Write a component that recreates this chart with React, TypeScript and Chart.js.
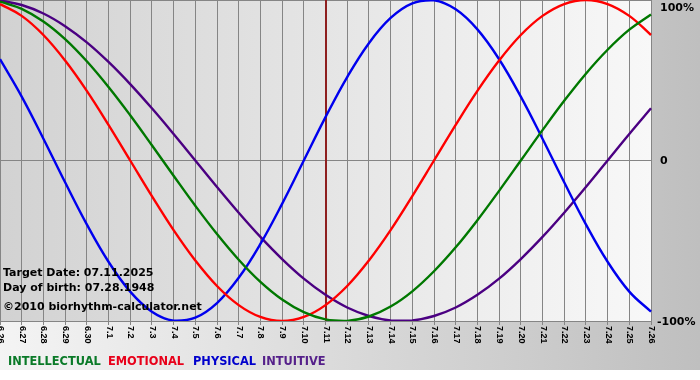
import React, { useEffect, useRef } from "react";
import { Chart, registerables } from "chart.js";

Chart.register(...registerables);

const DAY_LABELS = [
  "6.26", "6.27", "6.28", "6.29", "6.30", "7.1", "7.2", "7.3", "7.4", "7.5", "7.6",
  "7.7", "7.8", "7.9", "7.10", "7.11", "7.12", "7.13", "7.14", "7.15", "7.16",
  "7.17", "7.18", "7.19", "7.20", "7.21", "7.22", "7.23", "7.24", "7.25", "7.26",
];

const INTELLECTUAL = [
  99.0, 94.5, 86.6, 75.6, 61.8, 45.8, 28.2, 9.5, -9.5, -28.2, -45.8, -61.8, -75.6, -86.6,
  -94.5, -99.0, -99.9, -97.2, -91.0, -81.5, -69.0, -54.1, -37.2, -18.9, 0, 18.9, 37.2,
  54.1, 69.0, 81.5, 91.0,
];
const EMOTIONAL = [
  97.5, 90.1, 78.2, 62.3, 43.4, 22.2, 0, -22.2, -43.4, -62.3, -78.2, -90.1, -97.5, -100,
  -97.5, -90.1, -78.2, -62.3, -43.4, -22.2, 0, 22.2, 43.4, 62.3, 78.2, 90.1, 97.5, 100,
  97.5, 90.1, 78.2,
];
const PHYSICAL = [
  63.1, 39.8, 13.6, -13.6, -39.8, -63.1, -81.7, -94.2, -99.8, -97.9, -88.8, -73.1, -52.0,
  -27.0, 0, 27.0, 52.0, 73.1, 88.8, 97.9, 99.8, 94.2, 81.7, 63.1, 39.8, 13.6, -13.6,
  -39.8, -63.1, -81.7, -94.2,
];
const INTUITIVE = [
  99.7, 96.9, 91.6, 83.7, 73.6, 61.4, 47.6, 32.5, 16.5, 0, -16.5, -32.5, -47.6, -61.4,
  -73.6, -83.7, -91.6, -96.9, -99.7, -99.7, -96.9, -91.6, -83.7, -73.6, -61.4, -47.6,
  -32.5, -16.5, 0, 16.5, 32.5,
];

const Y_TICK_VALUES = [100, 0, -100];
const Y_TICK_LABELS = ["100%", "0", "-100%"];

const SERIES_NAMES = ["INTELLECTUAL", "EMOTIONAL", "PHYSICAL", "INTUITIVE"];
const LINE_COLORS = ["#007800", "#ff0000", "#0000ee", "#4b0082"];
const LEGEND_COLORS = ["#0a7a28", "#e8001a", "#0000cc", "#55208a"];
const LEGEND_X = [8, 108, 193, 262];

const INFO_LINES = [
  "Target Date: 07.11.2025",
  "Day of birth: 07.28.1948",
  "\u00a92010 biorhythm-calculator.net",
];
const TARGET_LABEL = "7.11";

const decorPlugin = {
  id: "biorhythmDecor",
  beforeDraw(chart: any) {
    const { ctx, chartArea, width, height } = chart;
    ctx.save();
    ctx.fillStyle = "#ffffff";
    ctx.fillRect(0, 0, width, height);
    const outer = ctx.createLinearGradient(0, 0, width, 0);
    outer.addColorStop(0, "#f4f4f4");
    outer.addColorStop(1, "#bfbfbf");
    ctx.fillStyle = outer;
    ctx.fillRect(0, 0, width, 370);
    const inner = ctx.createLinearGradient(chartArea.left, 0, chartArea.right, 0);
    inner.addColorStop(0, "#d2d2d2");
    inner.addColorStop(1, "#f8f8f8");
    ctx.fillStyle = inner;
    ctx.fillRect(chartArea.left, chartArea.top, chartArea.right - chartArea.left, chartArea.bottom - chartArea.top);
    ctx.restore();
  },
  beforeDatasetsDraw(chart: any) {
    const { ctx, chartArea } = chart;
    const xs = chart.scales.x;
    const idx = DAY_LABELS.indexOf(TARGET_LABEL);
    const x = Math.round(xs.getPixelForValue(idx));
    ctx.save();
    ctx.strokeStyle = "#8e1f1f";
    ctx.lineWidth = 2;
    ctx.beginPath();
    ctx.moveTo(x, chartArea.top);
    ctx.lineTo(x, chartArea.bottom);
    ctx.stroke();
    ctx.restore();
  },
  afterDatasetsDraw(chart: any) {
    const { ctx, chartArea } = chart;
    const xs = chart.scales.x;
    const ys = chart.scales.y;
    ctx.save();
    // x tick labels, rotated clockwise
    ctx.fillStyle = "#000000";
    ctx.font = "bold 9px 'Liberation Sans'";
    ctx.textAlign = "left";
    ctx.textBaseline = "middle";
    DAY_LABELS.forEach((lab, i) => {
      const x = xs.getPixelForValue(i);
      ctx.save();
      ctx.translate(x + 0.5, chartArea.bottom + 5);
      ctx.rotate(Math.PI / 2);
      ctx.fillText(lab, 0, 0);
      ctx.restore();
    });
    // y labels on the right
    ctx.font = "bold 11px 'DejaVu Sans'";
    ctx.textBaseline = "middle";
    Y_TICK_VALUES.forEach((v, i) => {
      const y = Math.max(ys.getPixelForValue(v), 7);
      const lab = Y_TICK_LABELS[i];
      const x = lab.startsWith("-") ? chartArea.right + 6 : chartArea.right + 9;
      ctx.fillText(lab, x, y + 1);
    });
    // info text
    ctx.textBaseline = "alphabetic";
    ctx.fillStyle = "#000000";
    ctx.fillText(INFO_LINES[0], 3, 276);
    ctx.fillText(INFO_LINES[1], 3, 291);
    ctx.fillText(INFO_LINES[2], 3, 310);
    // legend
    ctx.font = "bold 11.4px 'DejaVu Sans'";
    ctx.textBaseline = "middle";
    SERIES_NAMES.forEach((name, i) => {
      ctx.fillStyle = LEGEND_COLORS[i];
      ctx.fillText(name, LEGEND_X[i], 362);
    });
    ctx.restore();
  },
};

export default function App() {
  const ref = useRef<HTMLCanvasElement | null>(null);
  useEffect(() => {
    if (!ref.current) return;
    const seriesData = [INTELLECTUAL, EMOTIONAL, PHYSICAL, INTUITIVE];
    const chart = new Chart(ref.current, {
      type: "line",
      data: {
        labels: DAY_LABELS,
        datasets: SERIES_NAMES.map((name, i) => ({
          label: name,
          data: seriesData[i],
          borderColor: LINE_COLORS[i],
          backgroundColor: LINE_COLORS[i],
          borderWidth: 2.4,
          pointRadius: 0,
          tension: 0.4,
          fill: false,
        })),
      },
      options: {
        animation: false,
        responsive: false,
        layout: { padding: { left: 0, top: 0, right: 49, bottom: 59 } },
        plugins: {
          legend: { display: false },
          tooltip: { enabled: false },
        },
        scales: {
          x: {
            type: "category",
            offset: false,
            ticks: { display: false, autoSkip: false },
            grid: { color: "#858585", lineWidth: 1, drawTicks: true, tickLength: 4, tickColor: "#858585" },
            border: { display: true, color: "#858585" },
            afterFit: (s: any) => {
              s.height = 0;
            },
          },
          y: {
            min: -100,
            max: 100,
            ticks: { display: false, stepSize: 100 },
            grid: { color: "#858585", lineWidth: 1, drawTicks: false },
            border: { display: true, color: "#858585" },
            afterFit: (s: any) => {
              s.width = 0;
            },
          },
        },
      },
      plugins: [decorPlugin],
    });
    return () => chart.destroy();
  }, []);
  return (
    <div style={{ position: "fixed", left: 0, top: 0, width: 700, height: 380 }}>
      <canvas ref={ref} width={700} height={380} />
    </div>
  );
}
